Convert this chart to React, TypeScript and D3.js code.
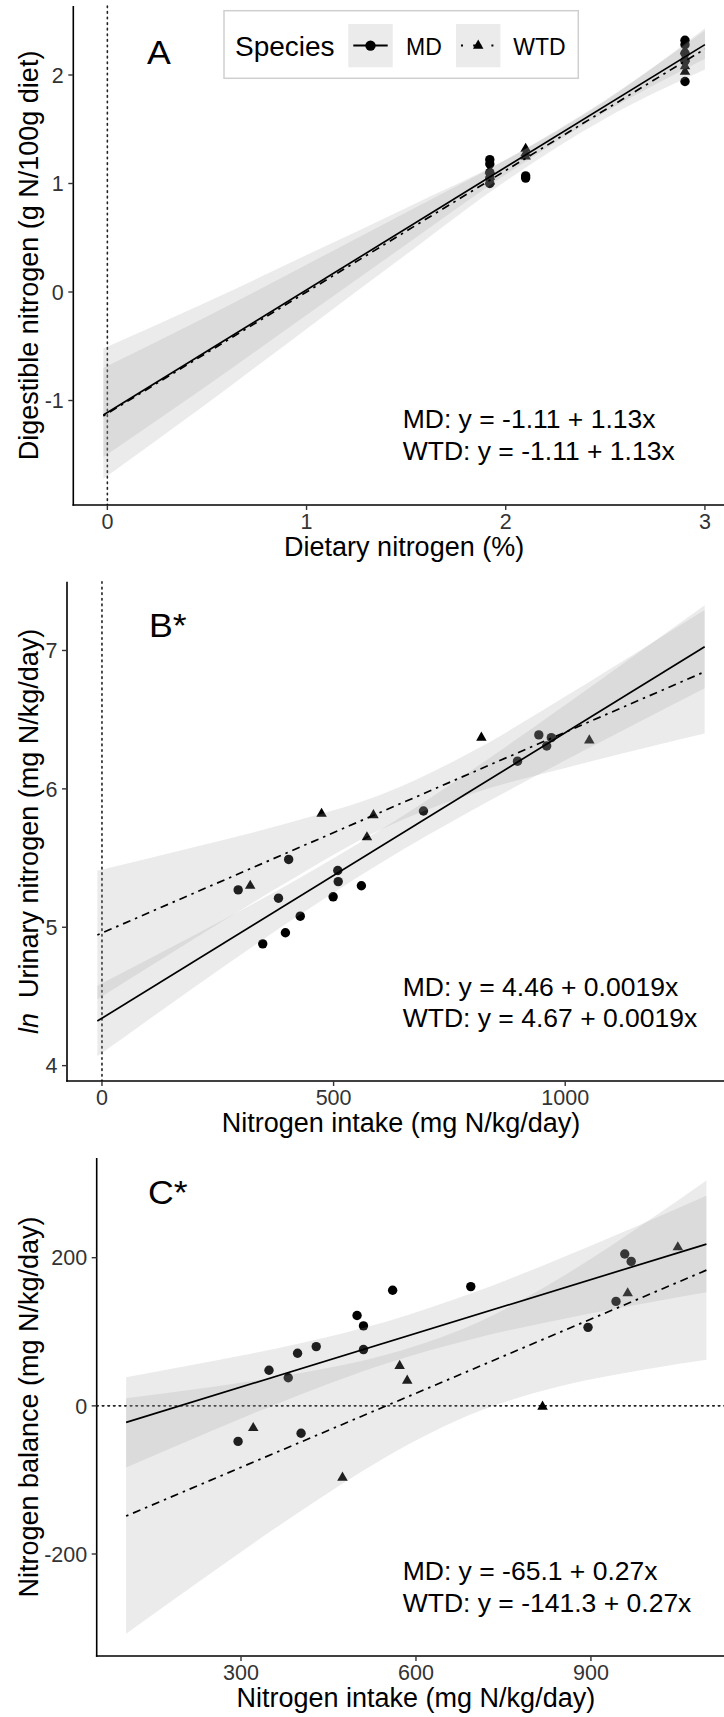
import React from "react";
import * as d3 from "d3";

const FONT = "'Liberation Sans', Arial, Helvetica, sans-serif";

type Pt = [number, number];
type Band = [number, number, number];

// ---------------- Panel A ----------------
const aXTicks = [0, 1, 2, 3];
const aYTicks = [-1, 0, 1, 2];
const aPointsMD: Pt[] = [
  [1.92, 1.22], [1.92, 1.18], [1.92, 1.10], [1.92, 1.05], [1.92, 1.0],
  [2.1, 1.07], [2.1, 1.05],
  [2.9, 2.32], [2.9, 2.28], [2.9, 2.2], [2.9, 2.13], [2.9, 1.94],
];
const aPointsWTD: Pt[] = [
  [1.92, 1.12], [1.92, 1.06], [1.92, 1.02],
  [2.1, 1.32], [2.1, 1.28], [2.1, 1.25],
  [2.9, 2.22], [2.9, 2.15], [2.9, 2.08], [2.9, 2.03],
];
const aLineMD: Pt[] = [[-0.02, -1.133], [3.0, 2.28]];
const aLineWTD: Pt[] = [[-0.02, -1.142], [3.0, 2.24]];
const aBandMD: Band[] = [
  [-0.02, -1.52, -0.7], [0.5, -0.864, -0.226], [1.0, -0.212, 0.252], [1.5, 0.438, 0.732],
  [2.0, 1.082, 1.218], [2.5, 1.66, 1.77], [3.0, 2.15, 2.41],
];
const aBandWTD: Band[] = [
  [-0.02, -1.72, -0.52], [0.5, -1.027, -0.093], [1.0, -0.34, 0.34], [1.5, 0.345, 0.775],
  [2.0, 1.022, 1.218], [2.5, 1.6, 1.76], [3.0, 2.05, 2.43],
];
const aEquations = ["MD: y = -1.11 + 1.13x", "WTD: y = -1.11 + 1.13x"];

// ---------------- Panel B ----------------
const bXTicks = [0, 500, 1000];
const bYTicks = [4, 5, 6, 7];
const bPointsMD: Pt[] = [
  [294, 5.27], [347, 4.88], [381, 5.21], [396, 4.96], [403, 5.49], [428, 5.08],
  [499, 5.22], [509, 5.41], [510, 5.33], [560, 5.3], [694, 5.84], [897, 6.2],
  [943, 6.39], [960, 6.31], [970, 6.37],
];
const bPointsWTD: Pt[] = [
  [320, 5.3], [474, 5.82], [572, 5.65], [586, 5.81], [819, 6.37], [1052, 6.35],
];
const bLineMD: Pt[] = [[-10, 4.322], [1301, 7.027]];
const bLineWTD: Pt[] = [[-10, 4.944], [1301, 6.846]];
const bBandMD: Band[] = [
  [-10, 4.067, 4.577], [200, 4.568, 4.944], [400, 5.03, 5.306], [600, 5.461, 5.701],
  [800, 5.847, 6.139], [1000, 6.206, 6.606], [1200, 6.554, 7.084], [1301, 6.727, 7.327],
];
const bBandWTD: Band[] = [
  [-10, 4.479, 5.409], [200, 4.918, 5.58], [400, 5.327, 5.751], [600, 5.703, 5.955],
  [800, 5.967, 6.271], [1000, 6.151, 6.667], [1200, 6.319, 7.081], [1301, 6.4, 7.292],
];
const bEquations = ["MD: y = 4.46 + 0.0019x", "WTD: y = 4.67 + 0.0019x"];

// ---------------- Panel C ----------------
const cXTicks = [300, 600, 900];
const cYTicks = [-200, 0, 200];
const cPointsMD: Pt[] = [
  [295, -48], [348, 48], [381, 38], [397, 71], [403, -37], [429, 80], [499, 122],
  [510, 108], [510, 76], [560, 156], [694, 161], [895, 106], [943, 141], [958, 205], [969, 195],
];
const cPointsWTD: Pt[] = [
  [321, -30], [474, -97], [572, 54], [585, 34], [817, -1], [963, 152], [1049, 214],
];
const cLineMD: Pt[] = [[103, -22.3], [1098, 218.4]];
const cLineWTD: Pt[] = [[103, -148.8], [1098, 183.2]];
const cBandMD: Band[] = [
  [103, -83.3, 38.7], [250, -33.5, 60.1], [400, 14.8, 84.2], [550, 57.6, 114.0],
  [700, 91.0, 153.2], [850, 116.9, 199.9], [1000, 139.4, 250.0], [1098, 153.2, 283.6],
];
const cBandWTD: Band[] = [
  [103, -307.8, 10.2], [250, -224.9, 25.5], [400, -143.3, 43.9], [550, -68.4, 69.2],
  [700, -9.8, 110.6], [850, 27.0, 174.0], [1000, 50.1, 250.9], [1098, 62.2, 304.2],
];
const cEquations = ["MD: y = -65.1 + 0.27x", "WTD: y = -141.3 + 0.27x"];

const legendTitle = "Species";
const legendLabels = ["MD", "WTD"];

// ---------------- styling ----------------
const RIBBON_FILL = "#999999";
const RIBBON_OPACITY = 0.2;
const DOTDASH = "2.5 5 8 5";
const DOTTED = "1.6 4";
const TICK_FONT = 21.5;
const TITLE_FONT = 27;
const EQ_FONT = 26.5;
const TAG_FONT = 34;
const TAG_STRETCH = 1.05;
const POINT_R = 4.7;

type Spec = {
  left: number; right: number; top: number; bottom: number;
  xDomain: [number, number]; yDomain: [number, number];
  xTicks: number[]; yTicks: number[];
  md: Pt[]; wtd: Pt[]; lineMD: Pt[]; lineWTD: Pt[]; bandMD: Band[]; bandWTD: Band[];
  vline0?: boolean; hline0?: boolean;
  tag: string; tagPos: [number, number];
  eq: string[]; eqX: number; eqY: [number, number];
  xTitle: string; yTitle: React.ReactNode;
};

const triPath = d3.symbol().type(d3.symbolTriangle).size(48)() as string;

function Panel({ s }: { s: Spec }) {
  const x = d3.scaleLinear().domain(s.xDomain).range([s.left, s.right]);
  const y = d3.scaleLinear().domain(s.yDomain).range([s.bottom, s.top]);
  const line = d3.line<Pt>().x((d) => x(d[0])).y((d) => y(d[1]));
  const area = d3
    .area<Band>()
    .x((d) => x(d[0]))
    .y0((d) => y(d[1]))
    .y1((d) => y(d[2]))
    .curve(d3.curveMonotoneX);
  const midY = (s.top + s.bottom) / 2;
  const midX = (s.left + s.right) / 2;
  return (
    <g>
      {s.vline0 && (
        <line x1={x(0)} x2={x(0)} y1={s.top} y2={s.bottom} stroke="#222" strokeWidth={1.6}
          strokeDasharray={DOTTED} strokeLinecap="round" />
      )}
      {s.hline0 && (
        <line x1={s.left} x2={s.right} y1={y(0)} y2={y(0)} stroke="#222" strokeWidth={1.6}
          strokeDasharray={DOTTED} strokeLinecap="round" />
      )}
      {s.wtd.map((d, i) => (
        <path key={"t" + i} d={triPath} transform={`translate(${x(d[0])},${y(d[1])})`} fill="#000" />
      ))}
      {s.md.map((d, i) => (
        <circle key={"c" + i} cx={x(d[0])} cy={y(d[1])} r={POINT_R} fill="#000" />
      ))}
      <path d={area(s.bandMD) as string} fill={RIBBON_FILL} fillOpacity={RIBBON_OPACITY} />
      <path d={area(s.bandWTD) as string} fill={RIBBON_FILL} fillOpacity={RIBBON_OPACITY} />
      <path d={line(s.lineMD) as string} stroke="#000" strokeWidth={1.7} fill="none" />
      <path d={line(s.lineWTD) as string} stroke="#000" strokeWidth={1.7} fill="none" strokeDasharray={DOTDASH} />
      {/* axes */}
      <line x1={s.left} x2={s.left} y1={s.top} y2={s.bottom + 0.8} stroke="#000" strokeWidth={1.6} />
      <line x1={s.left - 0.8} x2={s.right} y1={s.bottom} y2={s.bottom} stroke="#000" strokeWidth={1.6} />
      {s.yTicks.map((t) => (
        <g key={"yt" + t}>
          <line x1={s.left - 5} x2={s.left} y1={y(t)} y2={y(t)} stroke="#333" strokeWidth={1.4} />
          <text x={s.left - 9.5} y={y(t)} dy="0.36em" textAnchor="end" fontSize={TICK_FONT} fill="#333"
            fontFamily={FONT}>{t}</text>
        </g>
      ))}
      {s.xTicks.map((t) => (
        <g key={"xt" + t}>
          <line x1={x(t)} x2={x(t)} y1={s.bottom} y2={s.bottom + 5} stroke="#333" strokeWidth={1.4} />
          <text x={x(t)} y={s.bottom + 24} textAnchor="middle" fontSize={TICK_FONT} fill="#333"
            fontFamily={FONT}>{t}</text>
        </g>
      ))}
      <text x={midX} y={s.bottom + 51} textAnchor="middle" fontSize={TITLE_FONT} fontFamily={FONT} fill="#000">
        {s.xTitle}
      </text>
      <text transform={`translate(38,${midY}) rotate(-90)`} textAnchor="middle" fontSize={TITLE_FONT}
        fontFamily={FONT} fill="#000" style={{ whiteSpace: "pre" }}>
        {s.yTitle}
      </text>
      <text transform={`translate(${s.tagPos[0]},${s.tagPos[1]}) scale(${TAG_STRETCH},1)`}
        fontSize={TAG_FONT} fontFamily={FONT} fill="#000">{s.tag}</text>
      {s.eq.map((e, i) => (
        <text key={"eq" + i} x={s.eqX} y={s.eqY[i]} fontSize={EQ_FONT} fontFamily={FONT} fill="#000">{e}</text>
      ))}
    </g>
  );
}

function Legend() {
  const keys = [
    { x: 348.3, label: legendLabels[0], lx: 406, solid: true },
    { x: 456, label: legendLabels[1], lx: 513.3, solid: false },
  ];
  return (
    <g>
      <rect x={224} y={10.7} width={354.3} height={67.6} fill="#fff" stroke="#cfcfcf" strokeWidth={1.5} />
      <text x={235} y={56} fontSize={28} fontFamily={FONT} fill="#000">{legendTitle}</text>
      {keys.map((k) => (
        <g key={k.label}>
          <rect x={k.x} y={24} width={44.4} height={43.3} fill={RIBBON_FILL} fillOpacity={RIBBON_OPACITY} />
          {k.solid ? (
            <>
              <line x1={k.x + 5} x2={k.x + 39.4} y1={45.6} y2={45.6} stroke="#000" strokeWidth={2} />
              <circle cx={k.x + 22.2} cy={45.6} r={5.2} fill="#000" />
            </>
          ) : (
            <>
              <line x1={k.x + 5} x2={k.x + 39.4} y1={45.6} y2={45.6} stroke="#000" strokeWidth={2}
                strokeDasharray="2 10.2 8 10.2" />
              <path d={triPath} transform={`translate(${k.x + 22.2},${45.6})`} fill="#000" />
            </>
          )}
          <text x={k.lx} y={55} fontSize={23} fontFamily={FONT} fill="#000">{k.label}</text>
        </g>
      ))}
    </g>
  );
}

const specA: Spec = {
  left: 73.3, right: 735, top: 6, bottom: 505,
  xDomain: [-0.171, 3.151], yDomain: [-1.963, 2.636],
  xTicks: aXTicks, yTicks: aYTicks,
  md: aPointsMD, wtd: aPointsWTD, lineMD: aLineMD, lineWTD: aLineWTD, bandMD: aBandMD, bandWTD: aBandWTD,
  vline0: true, tag: "A", tagPos: [147, 63.5],
  eq: aEquations, eqX: 402.7, eqY: [428.3, 460],
  xTitle: "Dietary nitrogen (%)", yTitle: "Digestible nitrogen (g N/100g diet)",
};

const specB: Spec = {
  left: 67, right: 735, top: 581.7, bottom: 1081,
  xDomain: [-75.5, 1366.5], yDomain: [3.889, 7.497],
  xTicks: bXTicks, yTicks: bYTicks,
  md: bPointsMD, wtd: bPointsWTD, lineMD: bLineMD, lineWTD: bLineWTD, bandMD: bBandMD, bandWTD: bBandWTD,
  vline0: true, tag: "B*", tagPos: [149, 637],
  eq: bEquations, eqX: 402.7, eqY: [995.5, 1027.3],
  xTitle: "Nitrogen intake (mg N/kg/day)",
  yTitle: (
    <>
      <tspan fontStyle="italic">ln</tspan>
      <tspan>{"  Urinary nitrogen (mg N/kg/day)"}</tspan>
    </>
  ),
};

const specC: Spec = {
  left: 96.7, right: 735, top: 1158, bottom: 1656,
  xDomain: [52.6, 1147], yDomain: [-337.7, 334.6],
  xTicks: cXTicks, yTicks: cYTicks,
  md: cPointsMD, wtd: cPointsWTD, lineMD: cLineMD, lineWTD: cLineWTD, bandMD: cBandMD, bandWTD: cBandWTD,
  hline0: true, tag: "C*", tagPos: [148, 1203.5],
  eq: cEquations, eqX: 402.7, eqY: [1580, 1611.7],
  xTitle: "Nitrogen intake (mg N/kg/day)", yTitle: "Nitrogen balance (mg N/kg/day)",
};

export default function App() {
  return (
    <svg width={724} height={1717} viewBox="0 0 724 1717"
      style={{ position: "absolute", left: 0, top: 0, background: "#fff" }}>
      <rect x={0} y={0} width={724} height={1717} fill="#fff" />
      <Panel s={specA} />
      <Panel s={specB} />
      <Panel s={specC} />
      <Legend />
    </svg>
  );
}
